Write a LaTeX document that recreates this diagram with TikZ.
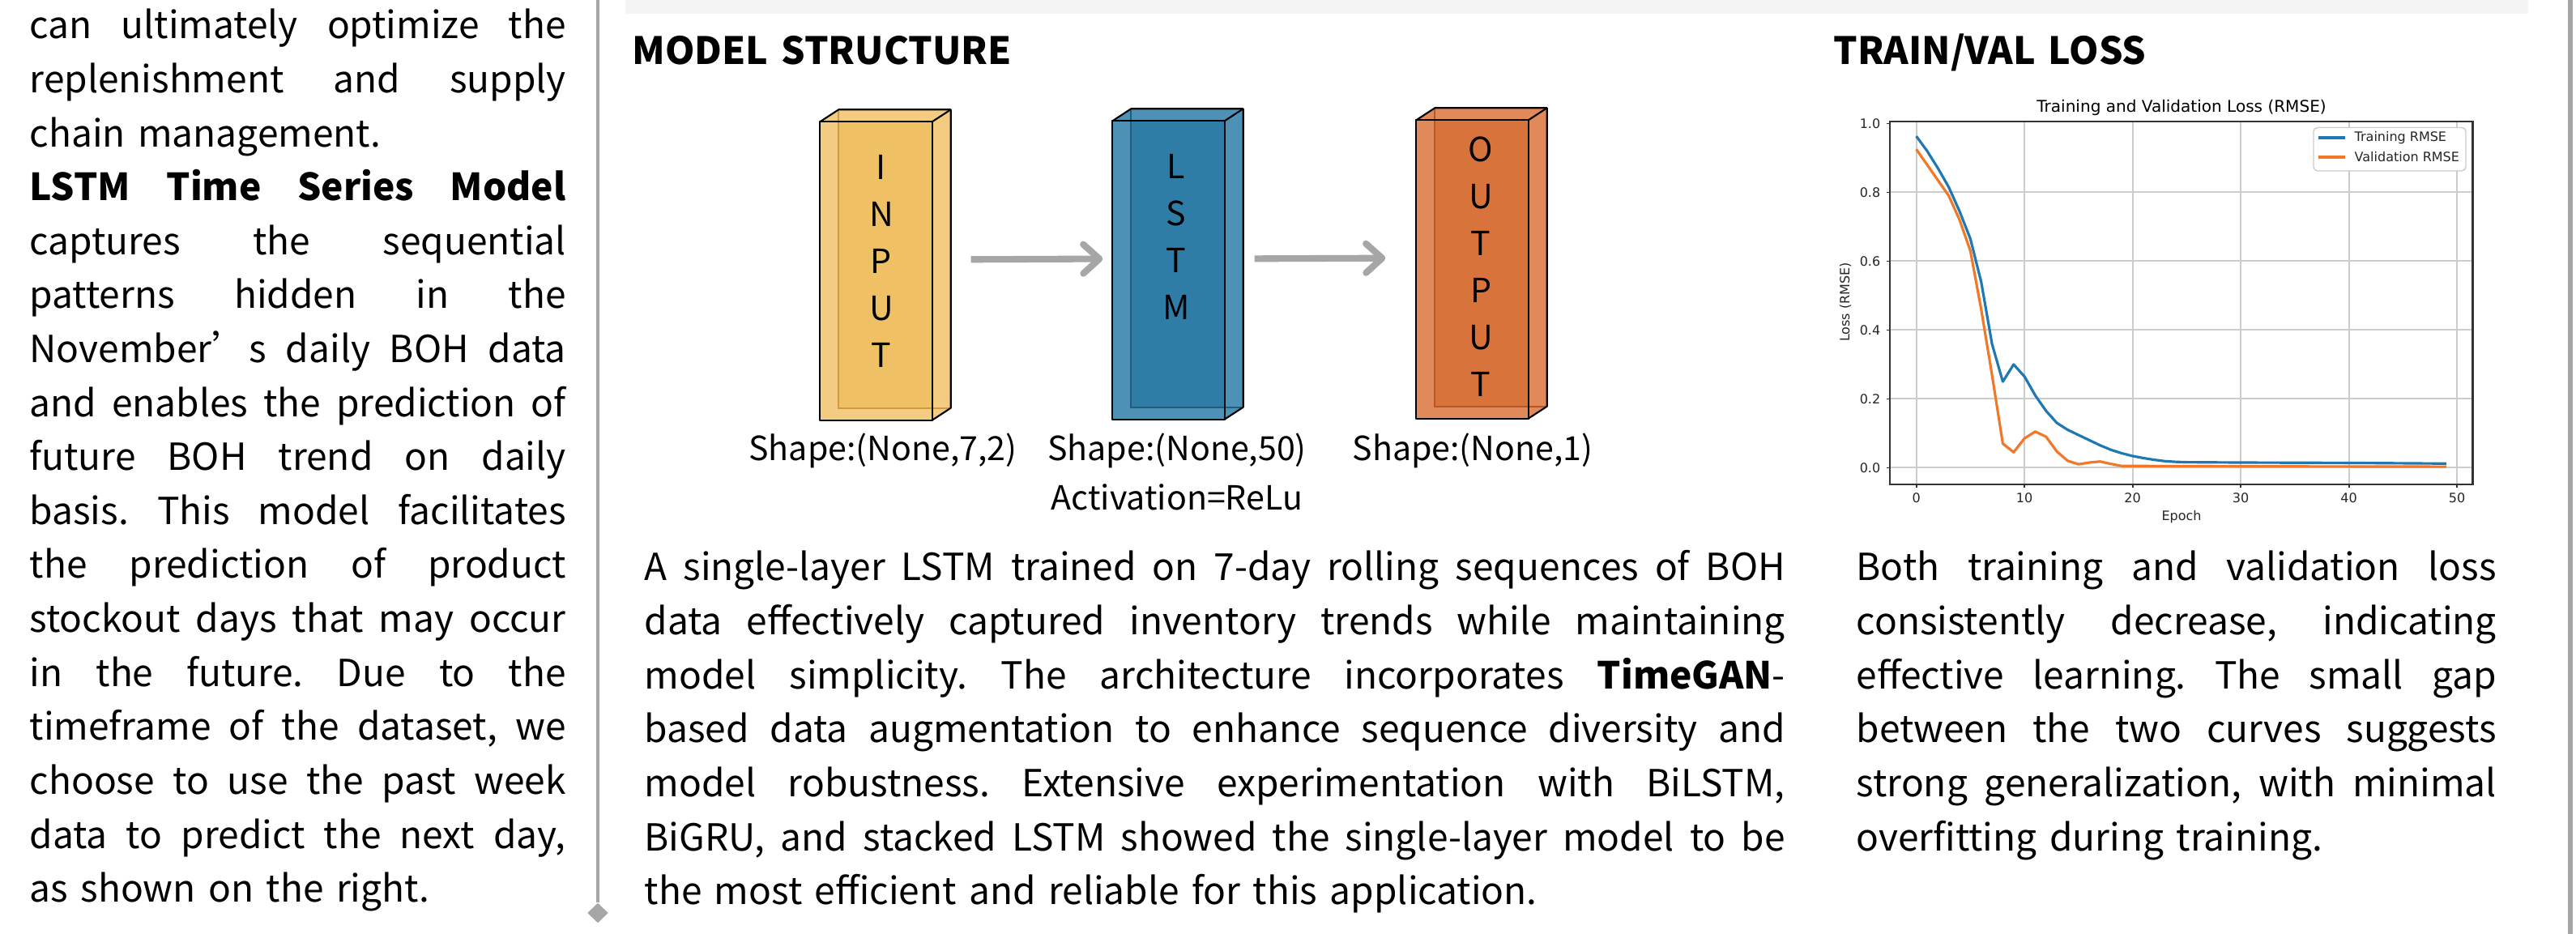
\documentclass[tikz,border=0pt]{standalone}
\usepackage{fontspec}
\setmainfont{Noto Sans CJK SC}[WordSpace={1.5,1.2,1.5}]
\newfontfamily\plotfont{DejaVu Sans}
\usetikzlibrary{arrows.meta,shapes.geometric}
\frenchspacing

\definecolor{inpF}{RGB}{240,193,100}
\definecolor{inpS}{RGB}{243,204,130}
\definecolor{inpE}{RGB}{205,155,70}
\definecolor{lstmF}{RGB}{47,125,167}
\definecolor{lstmS}{RGB}{78,145,182}
\definecolor{lstmE}{RGB}{32,92,128}
\definecolor{outF}{RGB}{216,115,60}
\definecolor{outS}{RGB}{225,137,90}
\definecolor{outE}{RGB}{178,88,42}
\definecolor{rulegray}{RGB}{166,166,166}
\definecolor{barfill}{RGB}{244,244,244}
\definecolor{trainc}{RGB}{31,119,180}
\definecolor{valc}{RGB}{240,120,40}

\begin{document}
\begin{tikzpicture}[
	layer/.style={minimum width=1.37cm, minimum height=3.67cm, inner sep=0pt},
	letters/.style={align=center, inner sep=0pt, font=\fontsize{11.7}{16.5}\selectfont},
	shapelbl/.style={anchor=base, inner sep=0pt, font=\fontsize{11.7}{14}\selectfont},
	para/.style={anchor=base west, inner sep=0pt, align=justify, font=\fontsize{13.1}{18.95}\selectfont},
	heading/.style={anchor=base west, inner sep=0pt, font=\fontsize{13.2}{16}\selectfont\bfseries},
	flow/.style={draw=rulegray, line width=2.3pt, -{Straight Barb[length=2mm, width=3.6mm, round]}},
	grid/.style={draw=black!20, line width=0.55pt},
	tick/.style={inner sep=0pt, text=black!85, font=\plotfont\fontsize{4.55}{5}\selectfont},
]
	\useasboundingbox (0,0) rectangle (31.8,-11.53);
	\fill[white] (0,0) rectangle (31.8,-11.53);

	% frame
	\fill[barfill] (7.72,0) rectangle (31.21,-0.17);
	\coordinate (ruletop) at (7.38,0);
	\node at (7.38,-11.27) [diamond, fill=rulegray, inner sep=0pt, minimum width=0.26cm, minimum height=0.25cm] (endmark) {};
	\draw[draw=rulegray, line width=1.15pt] (ruletop) -- (endmark);
	\coordinate (edgetop) at (31.73,0);
	\coordinate (edgebot) at (31.73,-11.53);
	\draw[draw=rulegray, line width=1.6pt] (edgetop) -- (edgebot);

	% left column
	\node at (0.36,-0.48) [para, text width=6.62cm] (intro) {can ultimately optimize the\linebreak replenishment and supply\linebreak chain management.\par
	\textbf{LSTM Time Series Model}\linebreak captures the sequential\linebreak patterns hidden in the\linebreak November’s daily BOH data\linebreak and enables the prediction of\linebreak future BOH trend on daily\linebreak basis. This model facilitates\linebreak the prediction of product\linebreak stockout days that may occur\linebreak in the future. Due to the\linebreak timeframe of the dataset, we\linebreak choose to use the past week\linebreak data to predict the next day,\linebreak as shown on the right.};

	% model structure
	\node at (7.80,-0.80) [heading] (mshead) {MODEL STRUCTURE};
	\node at (10.815,-3.345) [layer] (inp) {};
	\node at (14.425,-3.335) [layer] (lstm) {};
	\node at (18.175,-3.325) [layer] (out) {};

	\foreach \b/\f/\s/\e in {inp/inpF/inpS/inpE, lstm/lstmF/lstmS/lstmE, out/outF/outS/outE} {
		\fill[\s] (\b.south west) -- (\b.north west) -- ([shift={(0.23,0.15)}]\b.north west) -- ([shift={(0.23,0.15)}]\b.north east) -- ([shift={(0.23,0.15)}]\b.south east) -- (\b.south east) -- cycle;
		\fill[\f] ([xshift=0.23cm]\b.north west) rectangle ([yshift=0.15cm]\b.south east);
		\draw[\e, line width=0.5pt] ([shift={(0.23,0.15)}]\b.north west) -- ([shift={(0.23,0.15)}]\b.south west) -- ([shift={(0.23,0.15)}]\b.south east);
		\draw[line width=0.6pt, line join=round] (\b.south west) rectangle (\b.north east);
		\draw[line width=0.6pt, line join=round] (\b.north west) -- ([shift={(0.23,0.15)}]\b.north west) -- ([shift={(0.23,0.15)}]\b.north east) -- ([shift={(0.23,0.15)}]\b.south east) -- (\b.south east);
		\draw[line width=0.6pt] (\b.north east) -- ([shift={(0.23,0.15)}]\b.north east);
	}

	\node at (10.88,-3.22) [letters] (inptxt) {I\\N\\P\\U\\T};
	\node at (14.52,-2.92) [letters] (lstmtxt) {L\\S\\T\\M};
	\node at (18.28,-3.29) [letters] (outtxt) {O\\U\\T\\P\\U\\T};

	\draw[flow, shorten <=0.48cm, shorten >=0.12cm] ([yshift=1.4mm]inp.east) -- ([yshift=1.4mm]lstm.west);
	\draw[flow, shorten <=0.37cm, shorten >=0.38cm] ([yshift=1.4mm]lstm.east) -- ([yshift=1.4mm]out.west);

	\node at (10.90,-5.69) [shapelbl] (inplbl) {Shape:(None,7,2)};
	\node at (14.53,-5.69) [shapelbl] (lstmlbl) {Shape:(None,50)};
	\node at (14.53,-6.30) [shapelbl] (actlbl) {Activation=ReLu};
	\node at (18.18,-5.69) [shapelbl] (outlbl) {Shape:(None,1)};

	\node at (7.95,-7.17) [para, text width=14.08cm] (modeltxt) {A single-layer LSTM trained on 7-day rolling sequences of BOH\linebreak data effectively captured inventory trends while maintaining\linebreak model simplicity. The architecture incorporates \textbf{TimeGAN}-\linebreak based data augmentation to enhance sequence diversity and\linebreak model robustness. Extensive experimentation with BiLSTM,\linebreak BiGRU, and stacked LSTM showed the single-layer model to be\linebreak the most efficient and reliable for this application.};

	% train/val loss
	\node at (22.63,-0.80) [heading] (losshead) {TRAIN/VAL LOSS};
	\node at (26.93,-1.39) [anchor=base, inner sep=0pt, font=\plotfont\fontsize{5.7}{6}\selectfont] (ptitle) {Training and Validation Loss (RMSE)};

	\begin{scope}[shift={(23.656,-5.774)}, x=0.1335cm, y=4.25cm]
		\foreach \e in {0,10,...,50}
			\draw[grid] (\e,-0.048) -- (\e,1.005);
		\foreach \v in {0.0,0.2,0.4,0.6,0.8}
			\draw[grid] (-2.45,\v) -- (51.45,\v);
		\draw[black!80, line width=0.6pt] (-2.45,-0.048) rectangle (51.45,1.005);
		\foreach \e [count=\i] in {0,10,...,50} {
			\draw[black!80, line width=0.5pt] (\e,-0.048) -- ++(0pt,-0.04cm);
			\node at (\e,-0.048) [tick, anchor=north, yshift=-0.1cm] (xtick\i) {\e};
		}
		\foreach \v [count=\i] in {0.0,0.2,0.4,0.6,0.8,1.0} {
			\draw[black!80, line width=0.5pt] (-2.45,\v) -- ++(-0.04cm,0pt);
			\node at (-2.45,\v) [tick, anchor=east, xshift=-0.11cm] (ytick\i) {\v};
		}
		\draw[trainc, line width=0.9pt, line join=round] plot coordinates {(0,0.963) (1,0.92) (2,0.87) (3,0.815) (4,0.745) (5,0.665) (6,0.54) (7,0.36) (8,0.25) (9,0.30) (10,0.265) (11,0.21) (12,0.165) (13,0.13) (14,0.11) (15,0.095) (16,0.08) (17,0.065) (18,0.052) (19,0.042) (20,0.034) (21,0.028) (22,0.023) (23,0.019) (24,0.017) (25,0.016) (30,0.015) (40,0.014) (49,0.012)};
		\draw[valc, line width=0.9pt, line join=round] plot coordinates {(0,0.925) (1,0.88) (2,0.835) (3,0.79) (4,0.72) (5,0.63) (6,0.46) (7,0.27) (8,0.07) (9,0.045) (10,0.085) (11,0.105) (12,0.09) (13,0.047) (14,0.02) (15,0.01) (16,0.015) (17,0.018) (18,0.011) (19,0.005) (20,0.005) (30,0.004) (49,0.003)};
	\end{scope}

	\node at (26.93,-6.38) [tick] (xlabel) {Epoch};
	\node at (22.78,-3.73) [tick, rotate=90] (ylabel) {Loss (RMSE)};

	\draw[black!20, fill=white, rounded corners=0.05cm, line width=0.4pt] (28.56,-1.575) rectangle (30.44,-2.11);
	\coordinate (trainA) at (28.62,-1.70);
	\coordinate (trainB) at (28.95,-1.70);
	\coordinate (valA) at (28.62,-1.94);
	\coordinate (valB) at (28.95,-1.94);
	\draw[trainc, line width=0.9pt] (trainA) -- (trainB);
	\draw[valc, line width=0.9pt] (valA) -- (valB);
	\node at (29.06,-1.70) [tick, anchor=west] (trainkey) {Training RMSE};
	\node at (29.06,-1.94) [tick, anchor=west] (valkey) {Validation RMSE};

	\node at (22.91,-7.17) [para, text width=7.90cm] (losstxt) {Both training and validation loss\linebreak consistently decrease, indicating\linebreak effective learning. The small gap\linebreak between the two curves suggests\linebreak strong generalization, with minimal\linebreak overfitting during training.};
\end{tikzpicture}
\end{document}
